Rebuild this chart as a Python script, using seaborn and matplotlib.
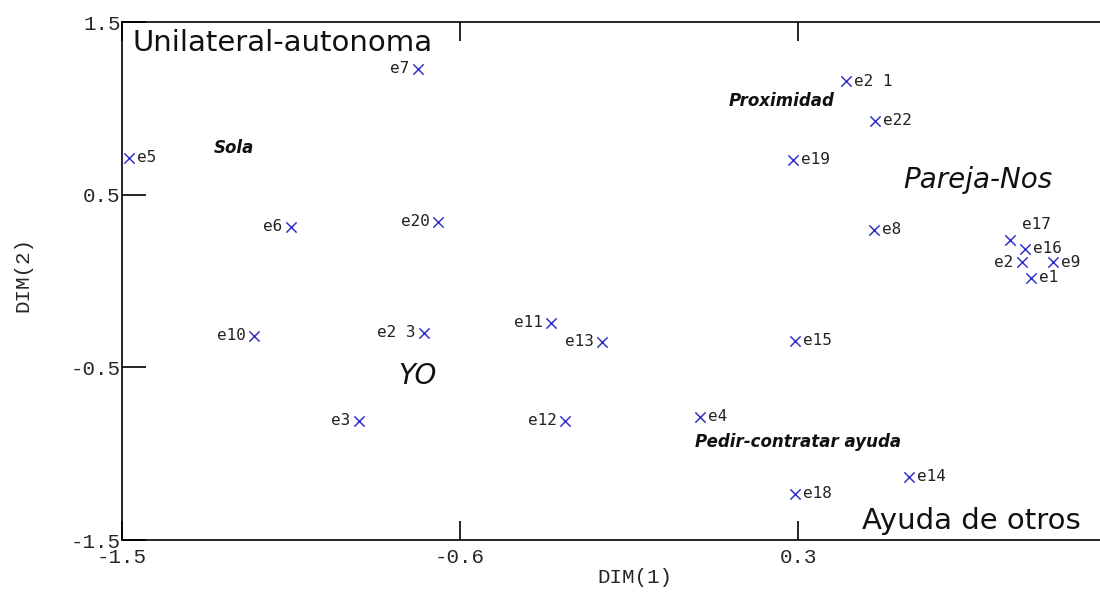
import matplotlib
matplotlib.use("Agg")
import matplotlib.pyplot as plt
import seaborn as sns
import pandas as pd

# ---- data ----
points = ["e1", "e2", "e3", "e4", "e5", "e6", "e7", "e8", "e9", "e10", "e11", "e12",
          "e13", "e14", "e15", "e16", "e17", "e18", "e19", "e20", "e21", "e22", "e23"]
dim1 = [0.920, 0.896, -0.869, 0.039, -1.481, -1.050, -0.712, 0.502, 0.979, -1.149, -0.358, -0.321,
        -0.222, 0.595, 0.292, 0.904, 0.864, 0.292, 0.286, -0.659, 0.428, 0.505, -0.696]
dim2 = [0.018, 0.110, -0.810, -0.787, 0.713, 0.313, 1.228, 0.296, 0.110, -0.318, -0.243, -0.810,
        -0.353, -1.135, -0.347, 0.186, 0.238, -1.233, 0.701, 0.342, 1.158, 0.927, -0.301]
label_text = ["e1", "e2", "e3", "e4", "e5", "e6", "e7", "e8", "e9", "e10", "e11", "e12",
              "e13", "e14", "e15", "e16", "e17", "e18", "e19", "e20", "e2 1", "e22", "e2 3"]
x_ticks = [-1.5, -0.6, 0.3]
x_tick_labels = ["-1.5", "-0.6", "0.3"]
y_ticks = [-1.5, -0.5, 0.5, 1.5]
y_tick_labels = ["-1.5", "-0.5", "0.5", "1.5"]
region_names = ["Unilateral-autonoma", "Ayuda de otros", "Pareja-Nos", "YO"]
factor_names = ["Sola", "Proximidad", "Pedir-contratar ayuda"]

# ---- layout / style ----
left_side = {"e2", "e3", "e6", "e7", "e10", "e11", "e12", "e13", "e20", "e23"}
region_pos = [(-1.473, 1.378, "normal"), (0.470, -1.389, "normal"),
              (0.579, 0.585, "italic"), (-0.765, -0.550, "italic")]
factor_pos = [(-1.255, 0.770), (0.116, 1.043), (0.026, -0.932)]

W, H = 1100, 592
fig = plt.figure(figsize=(W / 100, H / 100), dpi=100)
sns.set_style("white")
ax = fig.add_axes([122 / W, (H - 540) / H, (W - 122) / W, (540 - 22) / H])

df = pd.DataFrame({"dim1": dim1, "dim2": dim2, "name": points, "txt": label_text})
blue = "#3434c8"
sns.scatterplot(data=df, x="dim1", y="dim2", marker="x", color=blue, s=55,
                linewidth=1.1, ax=ax, legend=False, zorder=3)

ax.set_xlim(-1.5, -1.5 + (W - 122) / 375.6)
ax.set_ylim(-1.5, 1.5)

mono = "Liberation Mono"
lab_font = dict(fontsize=11.5, family="DejaVu Sans Mono", color="#222222")
for _, r in df.iterrows():
    if r["name"] == "e17":
        ax.annotate(r["txt"], (r["dim1"], r["dim2"]), xytext=(19, 11), textcoords="offset points",
                    ha="center", va="center", **lab_font)
    elif r["name"] in left_side:
        ax.annotate(r["txt"], (r["dim1"], r["dim2"]), xytext=(-6, 0), textcoords="offset points",
                    ha="right", va="center", **lab_font)
    else:
        ax.annotate(r["txt"], (r["dim1"], r["dim2"]), xytext=(6, 0), textcoords="offset points",
                    ha="left", va="center", **lab_font)

for name, (x, y, st) in zip(region_names, region_pos):
    ax.text(x, y, name, ha="left", va="center", fontsize=21 if st == "normal" else 20,
            style=st, family="DejaVu Sans", color="#111111")
for name, (x, y) in zip(factor_names, factor_pos):
    ax.text(x, y, name, ha="left", va="center", fontsize=12, style="italic",
            weight="bold", family="DejaVu Sans", color="#111111")

# axes styling
for side in ["top", "left", "bottom"]:
    ax.spines[side].set_visible(True)
    ax.spines[side].set_color("black")
    ax.spines[side].set_linewidth(1.2)
ax.spines["right"].set_visible(False)

ax.set_xticks(x_ticks)
ax.set_xticklabels(x_tick_labels, family=mono, fontsize=15)
ax.set_yticks(y_ticks)
ax.set_yticklabels(y_tick_labels, family=mono, fontsize=15)
ax.tick_params(axis="x", direction="in", length=14, width=1.2, top=True, bottom=True, pad=6, color="black")
ax.tick_params(axis="y", direction="in", length=17, width=1.2, left=True, right=False, pad=1, color="black")

ax.set_xlabel("DIM(1)", family=mono, fontsize=15)
ax.set_ylabel("DIM(2)", family=mono, fontsize=15)
ax.xaxis.set_label_coords((635 - 122) / (W - 122), (540 - 568) / (540 - 22))
ax.yaxis.set_label_coords((32 - 122) / (W - 122), (540 - 275) / (540 - 22))
ax.grid(False)

fig.savefig("out.png", dpi=100)
